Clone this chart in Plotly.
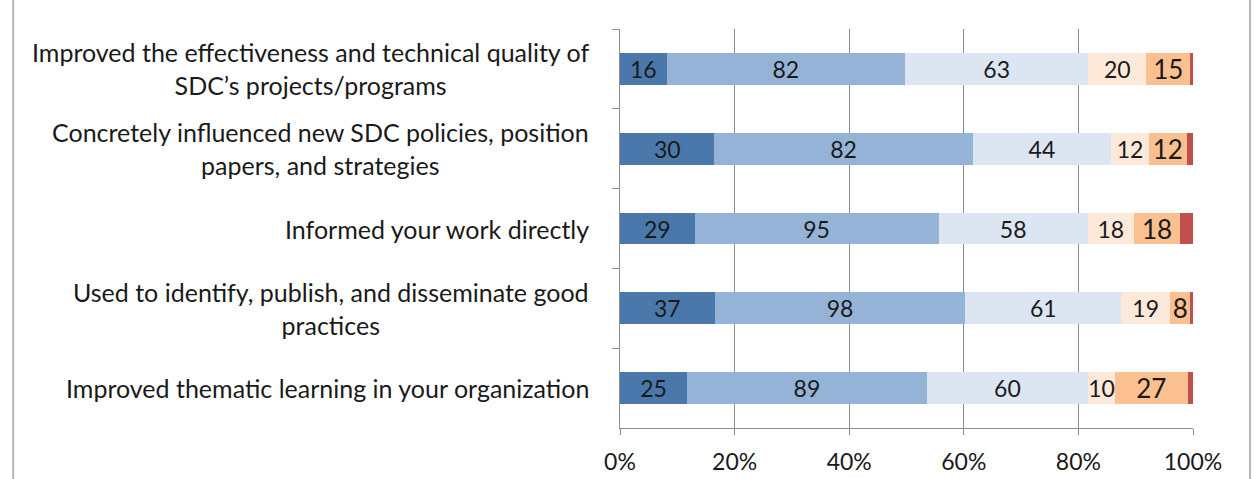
import plotly.graph_objects as go

categories = [
    "Improved the effectiveness and technical quality of<br>SDC’s projects/programs",
    "Concretely influenced new SDC policies, position<br>papers, and strategies",
    "Informed your work directly",
    "Used to identify, publish, and disseminate good<br>practices",
    "Improved thematic learning in your organization",
]
series_names = ["S1", "S2", "S3", "S4", "S5", "S6"]
values = [
    [16, 30, 29, 37, 25],
    [82, 82, 95, 98, 89],
    [63, 44, 58, 61, 60],
    [20, 12, 18, 19, 10],
    [15, 12, 18, 8, 27],
    [1, 2, 5, 1, 2],
]
colors = ["#4a78ab", "#95b3d7", "#dce6f2", "#fde9d9", "#fac090", "#c0504d"]
show_labels = [True, True, True, True, True, False]
label_sizes = [23, 23, 23, 23, 26, 23]
tick_vals = [0, 20, 40, 60, 80, 100]
tick_text = ["0%", "20%", "40%", "60%", "80%", "100%"]

FONT = "Lato"
TXT = "#1a1a1a"

fig = go.Figure()
for name, vals, col, show, fs in zip(series_names, values, colors, show_labels, label_sizes):
    fig.add_trace(go.Bar(
        y=categories, x=vals, orientation="h", name=name,
        marker=dict(color=col, line=dict(width=0)),
        text=[str(v) for v in vals] if show else None,
        textposition="inside" if show else "none",
        insidetextanchor="middle",
        textangle=0,
        constraintext="none",
        textfont=dict(family=FONT, size=fs, color=TXT),
        hoverinfo="skip",
    ))

for c in categories:
    fig.add_annotation(
        x=-0.05, xref="paper", y=c, yref="y", text=c, showarrow=False,
        xanchor="right", yanchor="middle", align="center",
        font=dict(family=FONT, size=25, color=TXT),
    )

fig.update_layout(
    barmode="stack", barnorm="percent", bargap=0.6,
    width=1260, height=479,
    margin=dict(l=620, r=67, t=29, b=51, autoexpand=False),
    paper_bgcolor="white", plot_bgcolor="white",
    showlegend=False,
    font=dict(family=FONT, color=TXT),
    shapes=[
        dict(type="line", xref="paper", yref="paper", x0=-1.059, x1=-1.059, y0=-0.2, y1=1.2,
             line=dict(color="#b4b4b4", width=2)),
        dict(type="line", xref="paper", yref="paper", x0=1.0995, x1=1.0995, y0=-0.2, y1=1.2,
             line=dict(color="#b4b4b4", width=2)),
    ],
)
fig.update_xaxes(
    range=[0, 100], tickvals=tick_vals, ticktext=tick_text,
    showgrid=True, gridcolor="#8c8c8c", gridwidth=1,
    showline=True, linecolor="#8c8c8c", linewidth=1,
    ticks="outside", ticklen=6, tickcolor="#8c8c8c",
    ticklabelstandoff=7, automargin=False,
    tickfont=dict(family=FONT, size=23, color=TXT),
    zeroline=False, fixedrange=True,
)
fig.update_yaxes(
    categoryorder="array", categoryarray=categories, autorange="reversed",
    showticklabels=False, showline=True, linecolor="#8c8c8c", linewidth=1,
    ticks="outside", ticklen=7, tickcolor="#8c8c8c", tickson="boundaries",
    showgrid=False, zeroline=False, fixedrange=True, automargin=False,
)

fig.write_html("out.html")
